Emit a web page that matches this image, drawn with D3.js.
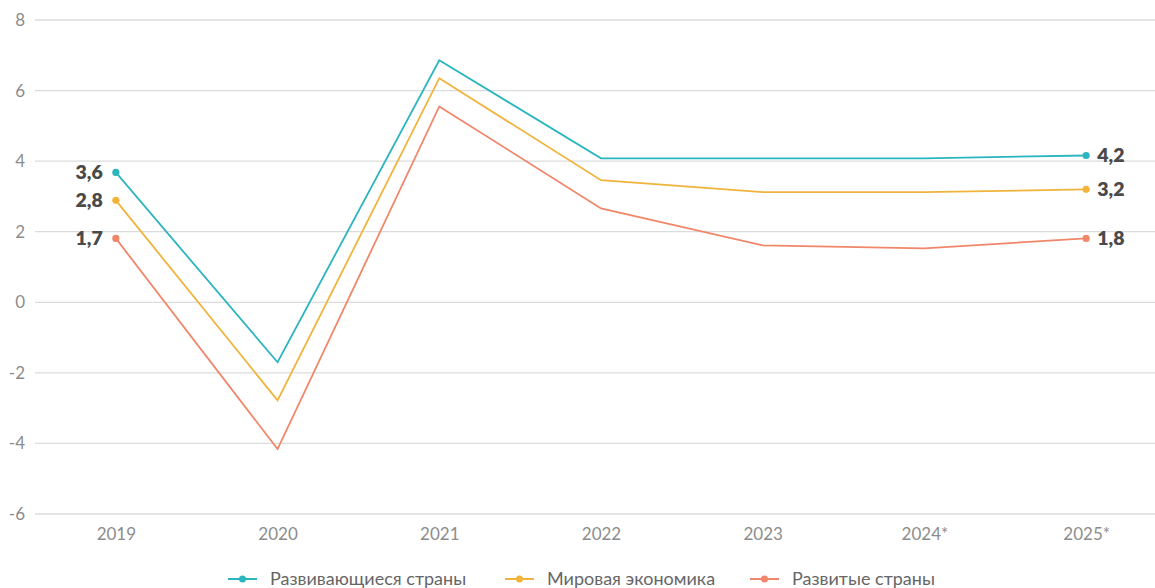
<!DOCTYPE html>
<html lang="ru">
<head>
<meta charset="utf-8">
<title>Рост ВВП</title>
<script src="https://d3js.org/d3.v7.min.js"></script>
<style>
  body { margin: 0; background: #fff; font-family: Lato, "Noto Sans", sans-serif; }
  .grid line { stroke: #dcdcdc; stroke-width: 1.3; }
  .tick text { fill: #8c8c8c; font-size: 17px; font-family: Lato, sans-serif; font-weight: 400; }
  .lbl { fill: #4a4a4a; font-size: 19.5px; font-weight: 800; }
  .leg { fill: #666; font-size: 18px; font-weight: 400; }
</style>
</head>
<body>
<div id="chart"></div>
<script>
// years on x axis
var years = ["2019", "2020", "2021", "2022", "2023", "2024*", "2025*"];
var yTicks = [-6, -4, -2, 0, 2, 4, 6, 8];

// series values
var seriesNames = ["Развивающиеся страны", "Мировая экономика", "Развитые страны"];
var developing = [3.68, -1.7, 6.86, 4.08, 4.08, 4.08, 4.16];
var world      = [2.89, -2.78, 6.35, 3.46, 3.12, 3.12, 3.2];
var advanced   = [1.81, -4.16, 5.55, 2.66, 1.61, 1.53, 1.81];
var colors = ["#2bb5bf", "#f0b43c", "#f0876a"];

// end labels (as printed on the chart)
var firstLabels = ["3,6", "2,8", "1,7"];
var lastLabels  = ["4,2", "3,2", "1,8"];

var W = 1155, H = 588;
var margin = {top: 20, right: -12, bottom: 74, left: 35};
var width = W - margin.left - margin.right,
    height = H - margin.top - margin.bottom;

var svg = d3.select("#chart").append("svg")
    .attr("width", W).attr("height", H);
var g = svg.append("g")
    .attr("transform", "translate(" + margin.left + "," + margin.top + ")");

var x = d3.scalePoint().domain(years).range([0, width]).padding(0.5);
var y = d3.scaleLinear().domain([-6, 8]).range([height, 0]);

// gridlines
g.append("g").attr("class", "grid")
  .selectAll("line").data(yTicks).enter().append("line")
    .attr("x1", 0).attr("x2", W - margin.left)
    .attr("y1", function(d){ return y(d); })
    .attr("y2", function(d){ return y(d); });

// y axis (plain hyphen for negatives, like the original)
var yAxis = g.append("g")
    .call(d3.axisLeft(y).tickValues(yTicks).tickSize(0).tickPadding(10)
      .tickFormat(function(d){ return String(d); }));
yAxis.select(".domain").remove();
yAxis.selectAll("text").attr("text-anchor", "end");

// x axis
var xAxis = g.append("g")
    .attr("transform", "translate(0," + height + ")")
    .call(d3.axisBottom(x).tickSize(0).tickPadding(14));
xAxis.select(".domain").remove();

var data = [developing, world, advanced];
var line = d3.line()
    .x(function(d, i){ return x(years[i]); })
    .y(function(d){ return y(d); });

data.forEach(function(vals, s) {
  g.append("path")
    .datum(vals)
    .attr("fill", "none")
    .attr("stroke", colors[s])
    .attr("stroke-width", 1.8)
    .attr("d", line);

  var ends = [0, vals.length - 1];
  ends.forEach(function(i) {
    g.append("circle")
      .attr("cx", x(years[i])).attr("cy", y(vals[i]))
      .attr("r", 3.6).attr("fill", colors[s]);
  });

  g.append("text").attr("class", "lbl")
    .attr("x", x(years[0]) - 13).attr("y", y(vals[0]) + 7)
    .attr("text-anchor", "end").text(firstLabels[s]);
  g.append("text").attr("class", "lbl")
    .attr("x", x(years[years.length - 1]) + 11).attr("y", y(vals[vals.length - 1]) + 7)
    .attr("text-anchor", "start").text(lastLabels[s]);
});

// legend
var legendX = [228, 505, 750];
var leg = svg.append("g").attr("transform", "translate(0,579)");
seriesNames.forEach(function(name, s) {
  var lg = leg.append("g").attr("transform", "translate(" + legendX[s] + ",0)");
  lg.append("line").attr("x1", 0).attr("x2", 29).attr("y1", 0).attr("y2", 0)
    .attr("stroke", colors[s]).attr("stroke-width", 2);
  lg.append("circle").attr("cx", 14.5).attr("cy", 0).attr("r", 3.5).attr("fill", colors[s]);
  lg.append("text").attr("class", "leg").attr("x", 42).attr("y", 6).text(name);
});
</script>
</body>
</html>
